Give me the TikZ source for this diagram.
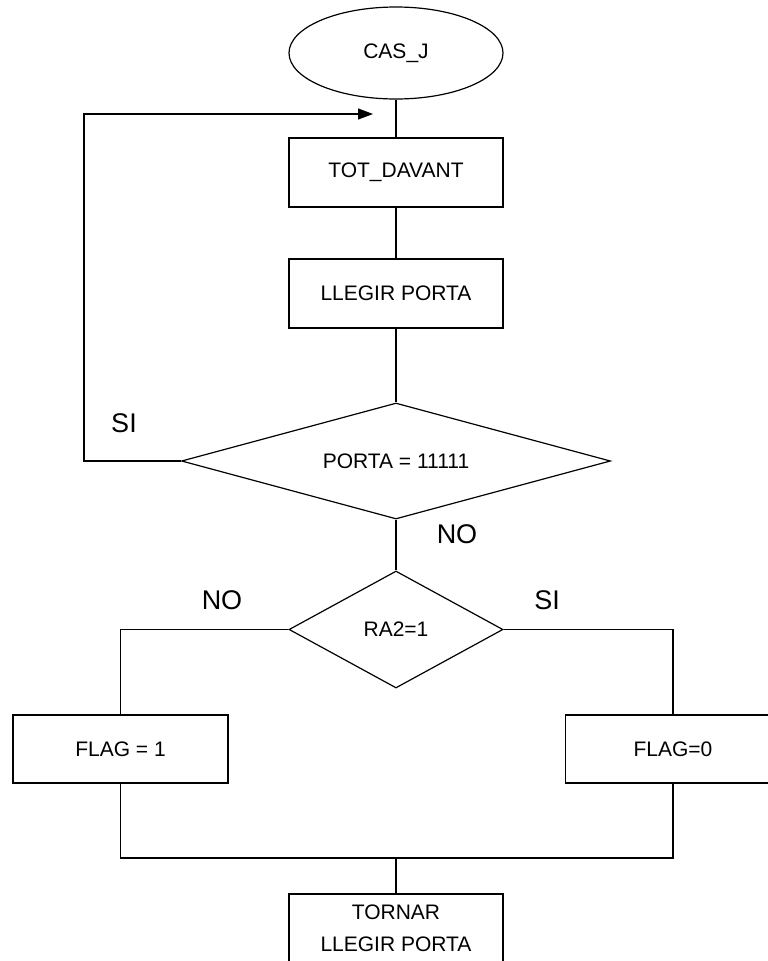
\documentclass[tikz,border=0pt]{standalone}
\usepackage{fontspec}
\setmainfont{Liberation Sans}
\usepackage{tikz}
\usetikzlibrary{positioning, shapes}
\usetikzlibrary{arrows.meta}

\begin{document}
\begin{tikzpicture}[x=1pt,y=-1pt]
        \tikzset{edge/.style = {-{Triangle[length=15pt,width=11pt]}}}
        \tikzset{flow/.style = {line width=1.2pt}}
        \tikzset{box/.style = {flow, draw, rectangle, minimum width=214pt, minimum height=69pt, inner sep=0pt, align=center, font=\fontsize{21}{32}\selectfont}}
        \tikzset{decision/.style = {flow, draw, diamond, inner sep=0pt, font=\fontsize{21}{24}\selectfont}}
        \tikzset{answer/.style = {font=\fontsize{27}{30}\selectfont}}
        \useasboundingbox (0,0) rectangle (768,961);

        % start
        \node[flow, draw, ellipse, minimum width=214pt, minimum height=92pt, inner sep=0pt, font=\fontsize{21}{24}\selectfont] (start) at (396,53) {CAS\_J};

        % reading the port
        \node[box] (tot) at (396,172.5) {TOT\_DAVANT};
        \node[box] (llegir) at (396,293.5) {LLEGIR PORTA};
        \node[decision, aspect=3.7, minimum width=429pt, minimum height=116pt] (porta) at (396,461) {PORTA = 11111};
        \draw[flow] (start) -- (tot);
        \draw[flow] (tot) -- (llegir);
        \draw[flow] (llegir) -- (porta);

        % loop back while all ones
        \coordinate (back) at (373,114);
        \draw[flow,edge] (porta.west) -- ++(-97,0) |- (back);
        \node[answer] (si1) at (124,423) {SI};

        % RA2 test
        \node[decision, aspect=1.83, minimum width=214pt, minimum height=117pt] (ra2) at (396,629.5) {RA2=1};
        \draw[flow] (porta) -- (ra2);
        \node[answer] (no1) at (457,534) {NO};

        % flag
        \node[box, minimum width=215pt, minimum height=68pt] (flag1) at (120.5,749) {FLAG = 1};
        \node[box, minimum width=215pt, minimum height=68pt] (flag0) at (673,749) {FLAG=0};
        \draw[flow] (ra2.west) -| (flag1);
        \draw[flow] (ra2.east) -| (flag0);
        \node[answer] (no2) at (222,600) {NO};
        \node[answer] (si2) at (547,600) {SI};

        % return
        \coordinate (join) at (396,858);
        \node[box] (tornar) at (396,928.5) {TORNAR\\LLEGIR PORTA};
        \draw[flow] (flag1.south) |- (join) -| (flag0.south);
        \draw[flow] (join) -- (tornar);

\end{tikzpicture}
\end{document}
